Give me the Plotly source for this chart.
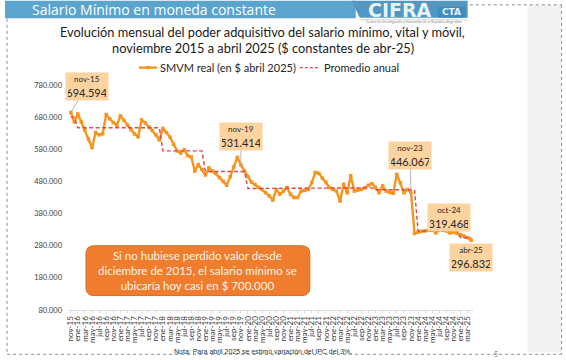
import plotly.graph_objects as go

# ---------------- data ----------------
month_abbr = ["ene", "feb", "mar", "abr", "may", "jun", "jul", "ago", "sep", "oct", "nov", "dic"]
months = []
y, m = 2015, 10  # nov-15 (0-based month)
for _ in range(114):
    months.append(f"{month_abbr[m]}-{str(y)[2:]}")
    m += 1
    if m == 12:
        m = 0
        y += 1

smvm_real = [694594, 665000, 690000, 665000, 640000, 612000, 585000, 632000, 625000, 628000,
             688000, 675000, 663000, 655000, 684000, 670000, 655000, 640000, 628000, 619000,
             671000, 662000, 650000, 638000, 625000, 609000, 645000, 632000, 618000, 596000,
             575000, 568000, 578000, 560000, 556000, 512000, 532000, 517000, 500000, 522000,
             512000, 505000, 492000, 480000, 468000, 495000, 525000, 555000, 531414, 512000,
             495000, 478000, 470000, 462000, 455000, 445000, 435000, 422000, 455000, 440000,
             450000, 461000, 440000, 430000, 430000, 450000, 452000, 455000, 476000, 508000,
             505000, 490000, 478000, 461000, 455000, 450000, 419000, 471000, 445000, 498000,
             450000, 453000, 455000, 460000, 468000, 473000, 461000, 445000, 466000, 450000,
             446000, 443000, 502000, 476000, 445000, 455000, 446067, 318000, 322000, 325000,
             326000, 328000, 329000, 320000, 330000, 328000, 326000, 319468, 322000, 318000,
             314000, 310000, 305000, 296832]
assert len(smvm_real) == len(months)

years = [2015, 2016, 2017, 2018, 2019, 2020, 2021, 2022, 2023, 2024, 2025]
promedio_anual = [680000, 647000, 647000, 575000, 511000, 458000, 458000, 460000, 454000, 326000, 305000]

y_ticks = [80000, 180000, 280000, 380000, 480000, 580000, 680000, 780000]
y_ticktext = ["80.000", "180.000", "280.000", "380.000", "480.000", "580.000", "680.000", "780.000"]

callout_months = ["nov-15", "nov-19", "nov-23", "oct-24", "abr-25"]

# ---------------- derived ----------------
idx = list(range(len(months)))
month_year = [2000 + int(s[-2:]) for s in months]
avg_map = dict(zip(years, promedio_anual))
promedio_series = [avg_map[yy] for yy in month_year]

# ---------------- geometry ----------------
W, H = 566, 360
L, R, T, B = 69.0, 473.3, 84.5, 310.5

def px(x):
    return (x - L) / (R - L)

def py(yv):
    return (B - yv) / (B - T)

ORANGE = "#F7941D"
RED = "#E0474C"
FONT = "Lato"
DASH = "4px,2.5px"

fig = go.Figure()
fig.add_trace(go.Scatter(x=idx, y=smvm_real, mode="lines+markers",
                         line=dict(color=ORANGE, width=2.4),
                         marker=dict(color=ORANGE, size=3.5, symbol="square"),
                         showlegend=False))
fig.add_trace(go.Scatter(x=idx, y=promedio_series, mode="lines",
                         line=dict(color=RED, width=1.4, dash=DASH), showlegend=False,
                         hoverinfo="skip"))

shapes = []
annotations = []

# banner
shapes.append(dict(type="rect", xref="paper", yref="paper", x0=px(5), x1=px(356), y0=py(17.5), y1=py(0),
                   fillcolor="#5BA4CE", line=dict(width=0), layer="below"))
annotations.append(dict(xref="paper", yref="paper", x=px(30), y=py(9), xanchor="left", yanchor="middle",
                        text="Salario Mínimo en moneda constante", showarrow=False,
                        font=dict(family="Open Sans", size=14, color="white")))
# logo
shapes.append(dict(type="path", xref="paper", yref="paper",
                   path=f"M {px(352)},{py(0)} L {px(468)},{py(0)} L {px(468)},{py(17)} L {px(360)},{py(17)} Z",
                   fillcolor="#4E98C6", line=dict(width=0)))
annotations.append(dict(xref="paper", yref="paper", x=px(366), y=py(9), xanchor="left", yanchor="middle",
                        text="<b>CIFRA</b>", showarrow=False,
                        font=dict(family="DejaVu Sans", size=19, color="#E8F2F8")))
shapes.append(dict(type="rect", xref="paper", yref="paper", x0=px(438), x1=px(466), y0=py(17), y1=py(6),
                   fillcolor="#3F8DBF", line=dict(width=0)))
annotations.append(dict(xref="paper", yref="paper", x=px(452), y=py(11.5), xanchor="center", yanchor="middle",
                        text="<b>CTA</b>", showarrow=False,
                        font=dict(family="DejaVu Sans", size=9, color="#E8F2F8")))
shapes.append(dict(type="line", xref="paper", yref="paper", x0=px(360), x1=px(468), y0=py(19), y1=py(19),
                   line=dict(color="#BBBBBB", width=0.6)))
annotations.append(dict(xref="paper", yref="paper", x=px(414), y=py(21.5), xanchor="center", yanchor="middle",
                        text="Centro de Investigación y Formación de la República Argentina", showarrow=False,
                        font=dict(family=FONT, size=3.5, color="#888888")))

# grey right panel
shapes.append(dict(type="rect", xref="paper", yref="paper", x0=px(528), x1=px(562), y0=py(353), y1=py(4),
                   fillcolor="#F2F2F2", line=dict(width=0), layer="below"))
# dotted border
for x0, y0, x1, y1 in [(7, 18, 7, 355), (7, 355, 562, 355), (562, 4, 562, 355), (356, 4, 562, 4)]:
    shapes.append(dict(type="line", xref="paper", yref="paper", x0=px(x0), x1=px(x1), y0=py(y0), y1=py(y1),
                       line=dict(color="#8C8C8C", width=1, dash="dot")))

# title
annotations.append(dict(xref="paper", yref="paper", x=px(263), y=py(31), xanchor="center", yanchor="middle",
                        text="Evolución mensual del poder adquisitivo del salario mínimo, vital y móvil,",
                        showarrow=False, font=dict(family=FONT, size=12.8, color="#1A1A1A")))
annotations.append(dict(xref="paper", yref="paper", x=px(263), y=py(47), xanchor="center", yanchor="middle",
                        text="noviembre 2015 a abril 2025 ($ constantes de abr-25)",
                        showarrow=False, font=dict(family=FONT, size=12.8, color="#1A1A1A")))

# legend (custom)
shapes.append(dict(type="line", xref="paper", yref="paper", x0=px(139), x1=px(157), y0=py(67), y1=py(67),
                   line=dict(color=ORANGE, width=2.4)))
shapes.append(dict(type="rect", xref="paper", yref="paper", x0=px(146.3), x1=px(149.7), y0=py(68.7), y1=py(65.3),
                   fillcolor=ORANGE, line=dict(width=0)))
annotations.append(dict(xref="paper", yref="paper", x=px(158), y=py(67), xanchor="left", yanchor="middle",
                        text="SMVM real (en $ abril 2025)", showarrow=False,
                        font=dict(family=FONT, size=11, color="#262626")))
shapes.append(dict(type="line", xref="paper", yref="paper", x0=px(300), x1=px(320), y0=py(67), y1=py(67),
                   line=dict(color=RED, width=1.4, dash="3px,2px")))
annotations.append(dict(xref="paper", yref="paper", x=px(322), y=py(67), xanchor="left", yanchor="middle",
                        text="Promedio anual", showarrow=False,
                        font=dict(family=FONT, size=11, color="#262626")))

# callouts
offsets = {"nov-15": (16, -26), "nov-19": (0, -28.5), "nov-23": (-1, -37), "oct-24": (-1, -16), "abr-25": (0, 17)}
for lab in callout_months:
    i = months.index(lab)
    ax, ay = offsets[lab]
    show_leader = lab in ("nov-15", "nov-19", "nov-23")
    val = f"{smvm_real[i]:,}".replace(",", ".")
    annotations.append(dict(x=i, y=smvm_real[i], xref="x", yref="y", ax=ax, ay=ay, axref="pixel", ayref="pixel",
                            text=f"<span style='font-size:8px'>{lab}</span><br>{val}",
                            showarrow=True, arrowhead=0, arrowwidth=0.8,
                            arrowcolor="#A6A6A6" if show_leader else "rgba(0,0,0,0)",
                            standoff=0, bgcolor="#FDD3A0", borderpad=2, width=38, height=23,
                            align="center", valign="middle",
                            font=dict(family=FONT, size=11, color="#262626")))

# big orange box
bx0, bx1, by0, by1, rr = 86, 310, 246, 296, 8
path = (f"M {px(bx0+rr)},{py(by0)} L {px(bx1-rr)},{py(by0)} Q {px(bx1)},{py(by0)} {px(bx1)},{py(by0+rr)} "
        f"L {px(bx1)},{py(by1-rr)} Q {px(bx1)},{py(by1)} {px(bx1-rr)},{py(by1)} "
        f"L {px(bx0+rr)},{py(by1)} Q {px(bx0)},{py(by1)} {px(bx0)},{py(by1-rr)} "
        f"L {px(bx0)},{py(by0+rr)} Q {px(bx0)},{py(by0)} {px(bx0+rr)},{py(by0)} Z")
shapes.append(dict(type="path", xref="paper", yref="paper", path=path, fillcolor="#EF7D2D",
                   line=dict(color="#D96A1E", width=1)))
annotations.append(dict(xref="paper", yref="paper", x=px(198), y=py(271), xanchor="center", yanchor="middle",
                        text="Si no hubiese perdido valor desde<br>diciembre de 2015, el salario mínimo se<br>ubicaría hoy casi en $ 700.000",
                        showarrow=False, align="center",
                        font=dict(family=FONT, size=11.5, color="#FFF4EA")))

# note & page number
annotations.append(dict(xref="paper", yref="paper", x=px(263), y=py(352), xanchor="center", yanchor="middle",
                        text="Nota: Para abril 2025 se estimó variación del IPC del 3%.", showarrow=False,
                        font=dict(family="Liberation Sans Narrow, Liberation Sans", size=7, color="#333333")))
annotations.append(dict(xref="paper", yref="paper", x=px(496), y=py(355), xanchor="center", yanchor="middle",
                        text="5", showarrow=False, font=dict(family=FONT, size=7, color="#888888")))

fig.update_layout(
    width=W, height=H,
    margin=dict(l=L, r=W - R, t=T, b=H - B, pad=0),
    paper_bgcolor="white", plot_bgcolor="white",
    showlegend=False,
    shapes=shapes, annotations=annotations,
    xaxis=dict(range=[-0.5, len(months) - 0.5], tickmode="array",
               tickvals=idx[::2], ticktext=months[::2], tickangle=-90,
               tickfont=dict(family=FONT, size=8, color="#404040"),
               showgrid=False, zeroline=False, showline=True, linecolor="#D9D9D9", linewidth=1,
               ticks="outside", ticklen=2, tickcolor="#D9D9D9", fixedrange=True, automargin=False),
    yaxis=dict(range=[80000, 780000], tickmode="array", tickvals=y_ticks, ticktext=y_ticktext,
               tickfont=dict(family=FONT, size=7.5, color="#404040"),
               showgrid=False, zeroline=False, showline=False, ticks="", ticklabelstandoff=6,
               fixedrange=True, automargin=False),
    font=dict(family=FONT),
)
fig.update_traces(cliponaxis=False)

fig.write_html("out.html", config={"displayModeBar": False},
               post_script="document.body.style.margin='0';document.body.style.overflow='hidden';")
